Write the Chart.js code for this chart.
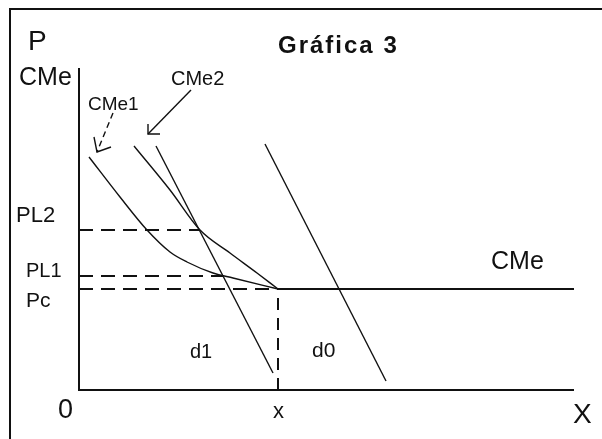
<!DOCTYPE html>
<html>
<head>
<meta charset="utf-8">
<script src="https://cdn.jsdelivr.net/npm/chart.js@4.4.0/dist/chart.umd.min.js"></script>
<style>
    html, body { margin: 0; padding: 0; background: #fff; }
    #wrap { position: relative; width: 602px; height: 439px; }
    #frame { position: absolute; left: 9px; top: 8px; right: -4px; bottom: -4px;
             border-top: 2px solid #111; border-left: 2px solid #111; }
    #chart { position: absolute; left: 0; top: 0; }
</style>
</head>
<body>
<div id="wrap">
    <div id="frame"></div>
    <canvas id="chart" width="602" height="439"></canvas>
</div>
<script>
// Gráfica 3 - average cost curves and demand

// Average cost curves CMe1 and CMe2 (quantity, price)
const cme1X = [10, 41, 68, 91, 108, 134, 154, 199];
const cme1Y = [233, 193, 160, 138, 128, 117, 112, 101];
const cme2X = [55, 91, 121, 151, 178, 199];
const cme2Y = [244, 200, 160, 137, 117, 101];

// Demand lines d1 and d0
const d1X = [77, 194];
const d1Y = [244, 17];
const d0X = [186, 307];
const d0Y = [246, 9];

// Price levels PL2, PL1, Pc and where their dashed guides stop
const priceNames = ['PL2', 'PL1', 'Pc'];
const priceValues = [160, 114, 101];
const priceEndX = [121, 144, 199];

// Quantity x, long run CMe and axis ends
const qValue = 199;
const xMax = 495;
const yMax = 322;

// Pointer arrows to the CMe1 / CMe2 labels
const arrow1X = [34, 18];
const arrow1Y = [277, 238];
const head1X = [15, 18, 32];
const head1Y = [253, 238, 243];
const arrow2X = [112, 69];
const arrow2Y = [300, 256];
const head2X = [69, 69, 81];
const head2Y = [266, 256, 256];

function pts(xs, ys) {
    return xs.map((x, i) => ({ x: x, y: ys[i] }));
}

const ink = '#111';

function line(data, width, dash, extra) {
    return Object.assign({
        data: data,
        showLine: true,
        borderColor: ink,
        backgroundColor: ink,
        borderWidth: width,
        borderDash: dash || [],
        pointRadius: 0,
        fill: false,
        tension: 0,
        clip: false
    }, extra || {});
}

const datasets = [
    // axes
    line([{ x: 0, y: yMax }, { x: 0, y: 0 }, { x: xMax, y: 0 }], 2),
    // long run CMe
    line([{ x: qValue, y: priceValues[2] }, { x: xMax, y: priceValues[2] }], 2),
    // vertical guide at x
    line([{ x: qValue, y: 0 }, { x: qValue, y: priceValues[2] }], 2, [12, 8]),
    // curves
    line(pts(cme1X, cme1Y), 1.4, [], { cubicInterpolationMode: 'monotone' }),
    line(pts(cme2X, cme2Y), 1.4, [], { cubicInterpolationMode: 'monotone' }),
    line(pts(d1X, d1Y), 1.4),
    line(pts(d0X, d0Y), 1.4),
    // arrows
    line(pts(arrow1X, arrow1Y), 1.4, [6, 4]),
    line(pts(head1X, head1Y), 1.4),
    line(pts(arrow2X, arrow2Y), 1.4),
    line(pts(head2X, head2Y), 1.4)
];

// dashed price guides
priceValues.forEach((p, i) => {
    datasets.push(line([{ x: 0, y: p }, { x: priceEndX[i], y: p }], 2, [14, 8]));
});

// text placed in data units
const notes = [
    { text: 'Gráfica 3', x: 199, y: 337, font: 'bold 24px "Liberation Sans"', spacing: '2px' },
    { text: 'P', x: -51, y: 340, font: '28px "Liberation Sans"' },
    { text: 'CMe', x: -60, y: 305, font: '25px "Liberation Sans"' },
    { text: 'CMe1', x: 9, y: 280, font: '19px "Liberation Sans"' },
    { text: 'CMe2', x: 92, y: 305, font: '20px "Liberation Sans"' },
    { text: priceNames[0], x: -63, y: 168, font: '22px "Liberation Sans"' },
    { text: priceNames[1], x: -53, y: 113, font: '20px "Liberation Sans"' },
    { text: priceNames[2], x: -53, y: 83, font: '21px "Liberation Sans"' },
    { text: '0', x: -21, y: -28, font: '27px "Liberation Sans"' },
    { text: 'x', x: 194, y: -28, font: '22px "Liberation Sans"' },
    { text: 'X', x: 494, y: -33, font: '28px "Liberation Sans"' },
    { text: 'CMe', x: 412, y: 121, font: '25px "Liberation Sans"' },
    { text: 'd1', x: 111, y: 32, font: '20px "Liberation Sans"' },
    { text: 'd0', x: 233, y: 33, font: '21px "Liberation Sans"' }
];

const textPlugin = {
    id: 'sketchText',
    afterDraw: function(chart) {
        const ctx = chart.ctx;
        const xs = chart.scales.x;
        const ys = chart.scales.y;
        ctx.save();
        ctx.fillStyle = ink;
        ctx.textAlign = 'left';
        ctx.textBaseline = 'alphabetic';
        notes.forEach(n => {
            ctx.font = n.font;
            ctx.letterSpacing = n.spacing || '0px';
            ctx.fillText(n.text, xs.getPixelForValue(n.x), ys.getPixelForValue(n.y));
        });
        ctx.restore();
    }
};

new Chart(document.getElementById('chart').getContext('2d'), {
    type: 'scatter',
    data: { datasets: datasets },
    options: {
        responsive: false,
        animation: false,
        layout: {
            padding: { left: 79, top: 68, right: 28, bottom: 49 }
        },
        scales: {
            x: { type: 'linear', display: false, min: 0, max: xMax },
            y: { type: 'linear', display: false, min: 0, max: yMax }
        },
        plugins: {
            legend: { display: false },
            tooltip: { enabled: false },
            title: { display: false }
        }
    },
    plugins: [textPlugin]
});
</script>
</body>
</html>
